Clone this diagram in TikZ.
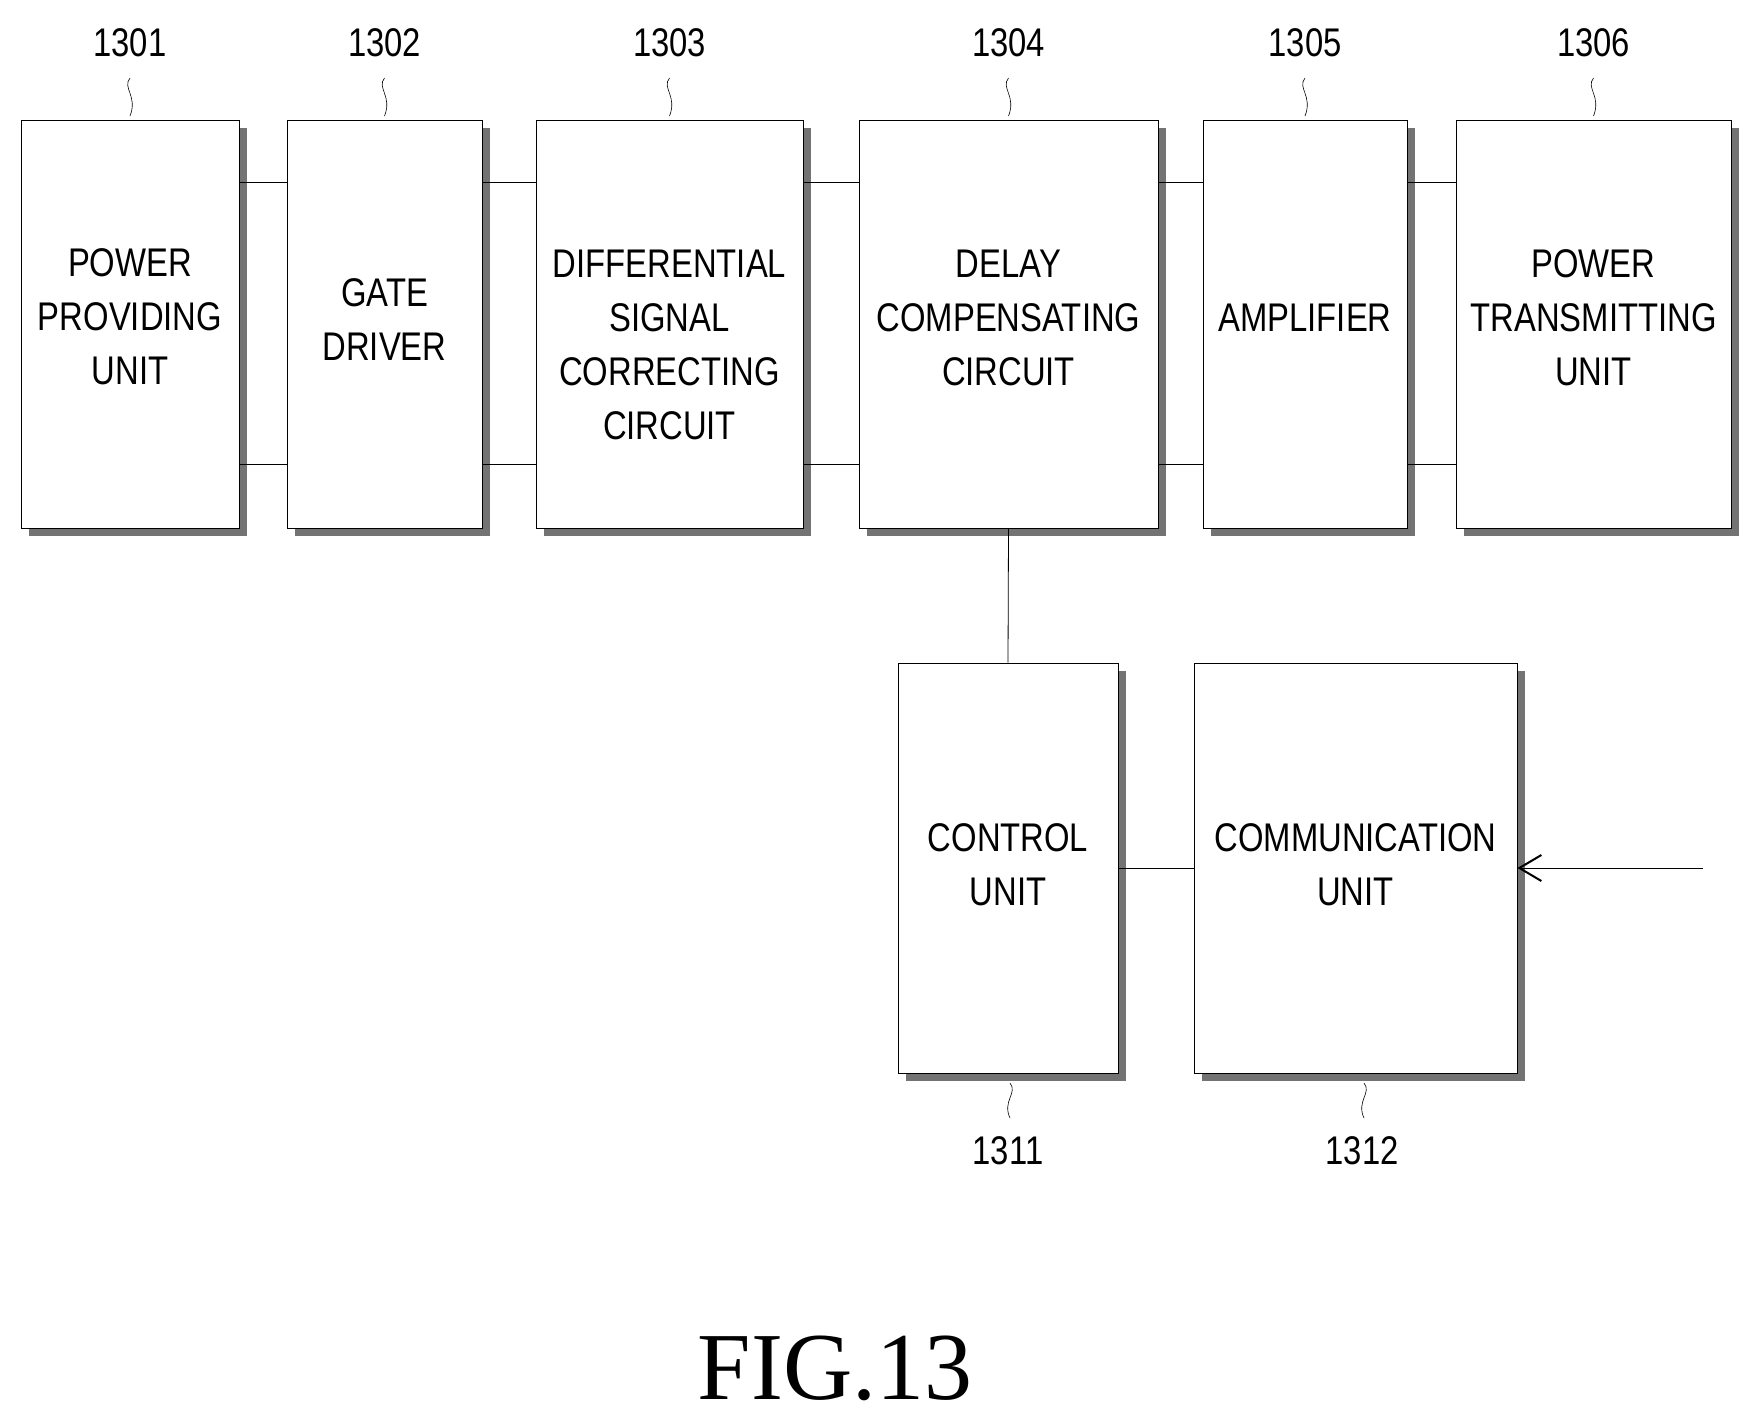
\documentclass[tikz,border=0pt]{standalone}
\usepackage{fontspec}
\setmainfont{Liberation Sans}[FakeStretch=0.82]
\usetikzlibrary{shadows,arrows.meta}
\tikzstyle{block}=[draw,thick,fill=white,align=center,inner sep=2pt,
  drop shadow={shadow xshift=8pt,shadow yshift=-8pt,fill=black!55,opacity=1}]
\tikzstyle{label}=[font=\fontsize{40}{54}\selectfont,align=center]
\tikzstyle{link}=[draw,thick]
\tikzstyle{refnum}=[font=\fontsize{40}{40}\selectfont]
\tikzstyle{squig}=[draw,semithick]
\begin{document}
\begin{tikzpicture}[x=1pt,y=-1pt]
  \useasboundingbox (0,0) rectangle (1754,1427);
  % top row of blocks
  \foreach \x/\w/\name/\num in {130/218/ppu/1301, 384.5/195/gd/1302,
    669.5/267/dsc/1303, 1008.5/299/dcc/1304, 1305/204/amp/1305, 1593.5/275/ptu/1306}
  {
    \node[block,minimum width=\w pt,minimum height=408pt] (\name) at (\x,324) {};
    \node[refnum] (n\num) at (\x,43) {\num};
    \path[squig] (\x,78) .. controls (\x-8,88) and (\x+8,96) .. (\x,116);
  }
  \node[label] (tppu) at (130,317) {POWER\\PROVIDING\\UNIT};
  \node[label] (tgd) at (384.5,320) {GATE\\DRIVER};
  \node[label] (tdsc) at (669.5,345) {DIFFERENTIAL\\SIGNAL\\CORRECTING\\CIRCUIT};
  \node[label] (tdcc) at (1008.5,318) {DELAY\\COMPENSATING\\CIRCUIT};
  \node[label] (tamp) at (1305,318) {AMPLIFIER};
  \node[label] (tptu) at (1593.5,318) {POWER\\TRANSMITTING\\UNIT};
  % links between neighbours
  \foreach \a/\b in {ppu/gd,gd/dsc,dsc/dcc,dcc/amp,amp/ptu} {
    \path[link] ([yshift=142pt]\a.east) -- ([yshift=142pt]\b.west);
    \path[link] ([yshift=-140pt]\a.east) -- ([yshift=-140pt]\b.west);
  }
  % lower blocks
  \node[block,minimum width=220pt,minimum height=410pt] (cu) at (1008,868) {};
  \node[label] (tcu) at (1008,865) {CONTROL\\UNIT};
  \node[block,minimum width=323pt,minimum height=410pt] (com) at (1355.5,868) {};
  \node[label] (tcom) at (1355.5,865) {COMMUNICATION\\UNIT};
  \path[link] (dcc.south) -- (cu.north);
  \path[link] (cu.east) -- (com.west);
  \coordinate (in) at (1703,868);
  \draw[thick,-{Straight Barb[length=22pt,width=26pt,line width=2pt]}] (in) -- (com.east);
  \node[refnum] (n1311) at (1008,1151) {1311};
  \node[refnum] (n1312) at (1362,1151) {1312};
  \path[squig] (1010,1083) .. controls (1018,1093) and (1002,1101) .. (1010,1118);
  \path[squig] (1364,1083) .. controls (1372,1093) and (1356,1101) .. (1364,1118);
  \node[font=\fontsize{96}{96}\selectfont\fontspec{Liberation Serif}] (fig) at (835,1368) {FIG.13};
\end{tikzpicture}
\end{document}
